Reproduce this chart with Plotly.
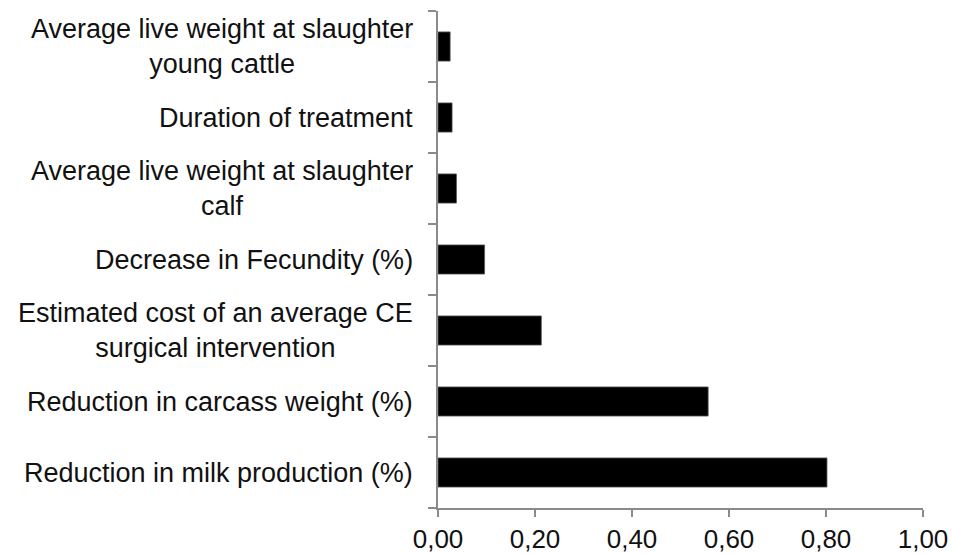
import plotly.graph_objects as go

categories = [
    "Reduction in milk production (%)",
    "Reduction in carcass weight (%)",
    "Estimated cost of an average CE<br>surgical intervention",
    "Decrease in Fecundity (%)",
    "Average live weight at slaughter<br>calf",
    "Duration of treatment",
    "Average live weight at slaughter<br>young cattle",
]
values = [0.802, 0.557, 0.213, 0.096, 0.038, 0.029, 0.025]
x_ticks = [0, 0.2, 0.4, 0.6, 0.8, 1.0]

FONT = "Liberation Sans, Arial, Helvetica, sans-serif"
AXIS = "#8a8a8a"

fig = go.Figure()
fig.add_trace(go.Bar(
    y=categories, x=values, orientation="h",
    marker=dict(color="#000000", line=dict(color="#555555", width=0.8)),
    width=0.41,
))

annotations = []
for c in categories:
    annotations.append(dict(
        xref="paper", yref="y", x=0, y=c, text=c,
        xanchor="right", yanchor="middle", align="center",
        xshift=-23, showarrow=False,
        font=dict(family=FONT, size=27, color="#111111"),
    ))

fig.update_layout(
    width=953, height=554, autosize=False,
    margin=dict(l=438, r=30, t=11, b=46),
    paper_bgcolor="white", plot_bgcolor="white",
    separators=",.",
    showlegend=False,
    annotations=annotations,
    font=dict(family=FONT, size=27, color="#111111"),
)
fig.update_xaxes(
    range=[0, 1.0], tickvals=x_ticks, tickformat=".2f",
    automargin=False,
    showgrid=False, zeroline=False,
    showline=True, linecolor=AXIS, linewidth=1.5,
    ticks="outside", ticklen=7, tickcolor=AXIS, tickwidth=1.5,
    tickfont=dict(family=FONT, size=26, color="#111111"),
)
fig.update_yaxes(
    categoryorder="array", categoryarray=categories,
    range=[-0.5, 6.5], automargin=False,
    showgrid=False, zeroline=False,
    showline=True, linecolor=AXIS, linewidth=1.5,
    ticks="outside", ticklen=8, tickcolor=AXIS, tickwidth=1.5,
    tickson="boundaries", showticklabels=False,
)

fig.write_html(
    "out.html",
    config={"responsive": False, "displayModeBar": False},
    post_script="document.body.style.margin='0';document.body.style.overflow='hidden';",
)
